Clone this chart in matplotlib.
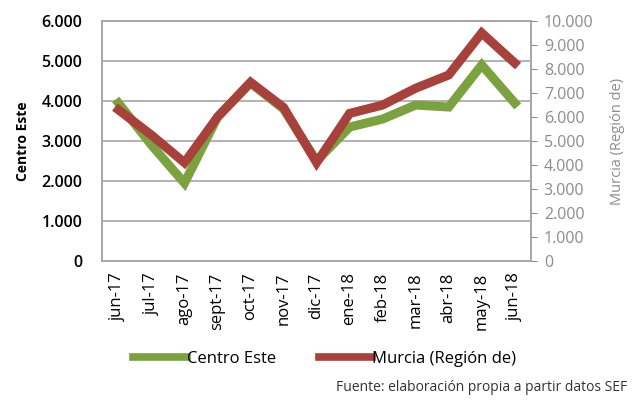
import matplotlib
matplotlib.use("Agg")
import matplotlib.pyplot as plt
from matplotlib.ticker import FuncFormatter, MultipleLocator
from matplotlib.lines import Line2D

months = ["jun-17", "jul-17", "ago-17", "sept-17", "oct-17", "nov-17", "dic-17",
          "ene-18", "feb-18", "mar-18", "abr-18", "may-18", "jun-18"]
centro_este = [3950, 2900, 1950, 3600, 4450, 3800, 2500, 3350, 3550, 3900, 3850, 4900, 3950]
murcia = [6300, 5250, 4100, 6000, 7450, 6400, 4100, 6150, 6500, 7200, 7750, 9500, 8250]

green = "#7ba23f"
red = "#a8413b"
gray = "#8c8c8c"

plt.rcParams["font.family"] = ["Open Sans", "DejaVu Sans"]

fig = plt.figure(figsize=(6.37, 4.03), dpi=100)
ax = fig.add_axes([0.16, 0.352, 0.674, 0.596])
ax2 = ax.twinx()

x = list(range(len(months)))
ax.plot(x, centro_este, color=green, lw=6.5, solid_joinstyle="miter", zorder=3)
ax2.plot(x, murcia, color=red, lw=6.5, solid_joinstyle="miter", zorder=3)

fmt = FuncFormatter(lambda v, p: f"{int(v):,}".replace(",", "."))

ax.set_xlim(-0.5, len(months) - 0.5)
ax.set_ylim(0, 6000)
ax.yaxis.set_major_locator(MultipleLocator(1000))
ax.yaxis.set_major_formatter(fmt)
ax.grid(axis="y", color="#a6a6a6", lw=1.2)
ax.set_axisbelow(True)
ax.set_xticks(x)
ax.set_xticklabels(months, rotation=90, fontsize=12)
ax.tick_params(axis="x", length=0, pad=8)
ax.tick_params(axis="y", length=0, labelsize=11.5, pad=14)
for lab in ax.get_yticklabels():
    lab.set_fontweight("semibold")
ax.set_ylabel("Centro Este", fontsize=10, fontweight="bold", labelpad=8)

ax2.set_ylim(0, 10000)
ax2.yaxis.set_major_locator(MultipleLocator(1000))
ax2.yaxis.set_major_formatter(fmt)
ax2.tick_params(axis="y", colors=gray, labelcolor=gray, length=4, labelsize=11.5, direction="out", pad=5)
ax2.set_ylabel("Murcia (Región de)", fontsize=10.5, color=gray, labelpad=12)

for a in (ax, ax2):
    for s in a.spines.values():
        s.set_color("#a6a6a6")
        s.set_linewidth(1.2)

handles = [Line2D([], [], color=green, lw=5.5), Line2D([], [], color=red, lw=5.5)]
fig.legend(handles, ["Centro Este", "Murcia (Región de)"], loc="center",
           bbox_to_anchor=(0.51, 0.11), ncol=2, frameon=False, fontsize=12,
           handlelength=3.2, handletextpad=0.0, columnspacing=2.6)

fig.text(0.985, 0.02, "Fuente: elaboración propia a partir datos SEF",
         ha="right", va="bottom", fontsize=10, color="#333333")

fig.savefig("out.png", dpi=100)
